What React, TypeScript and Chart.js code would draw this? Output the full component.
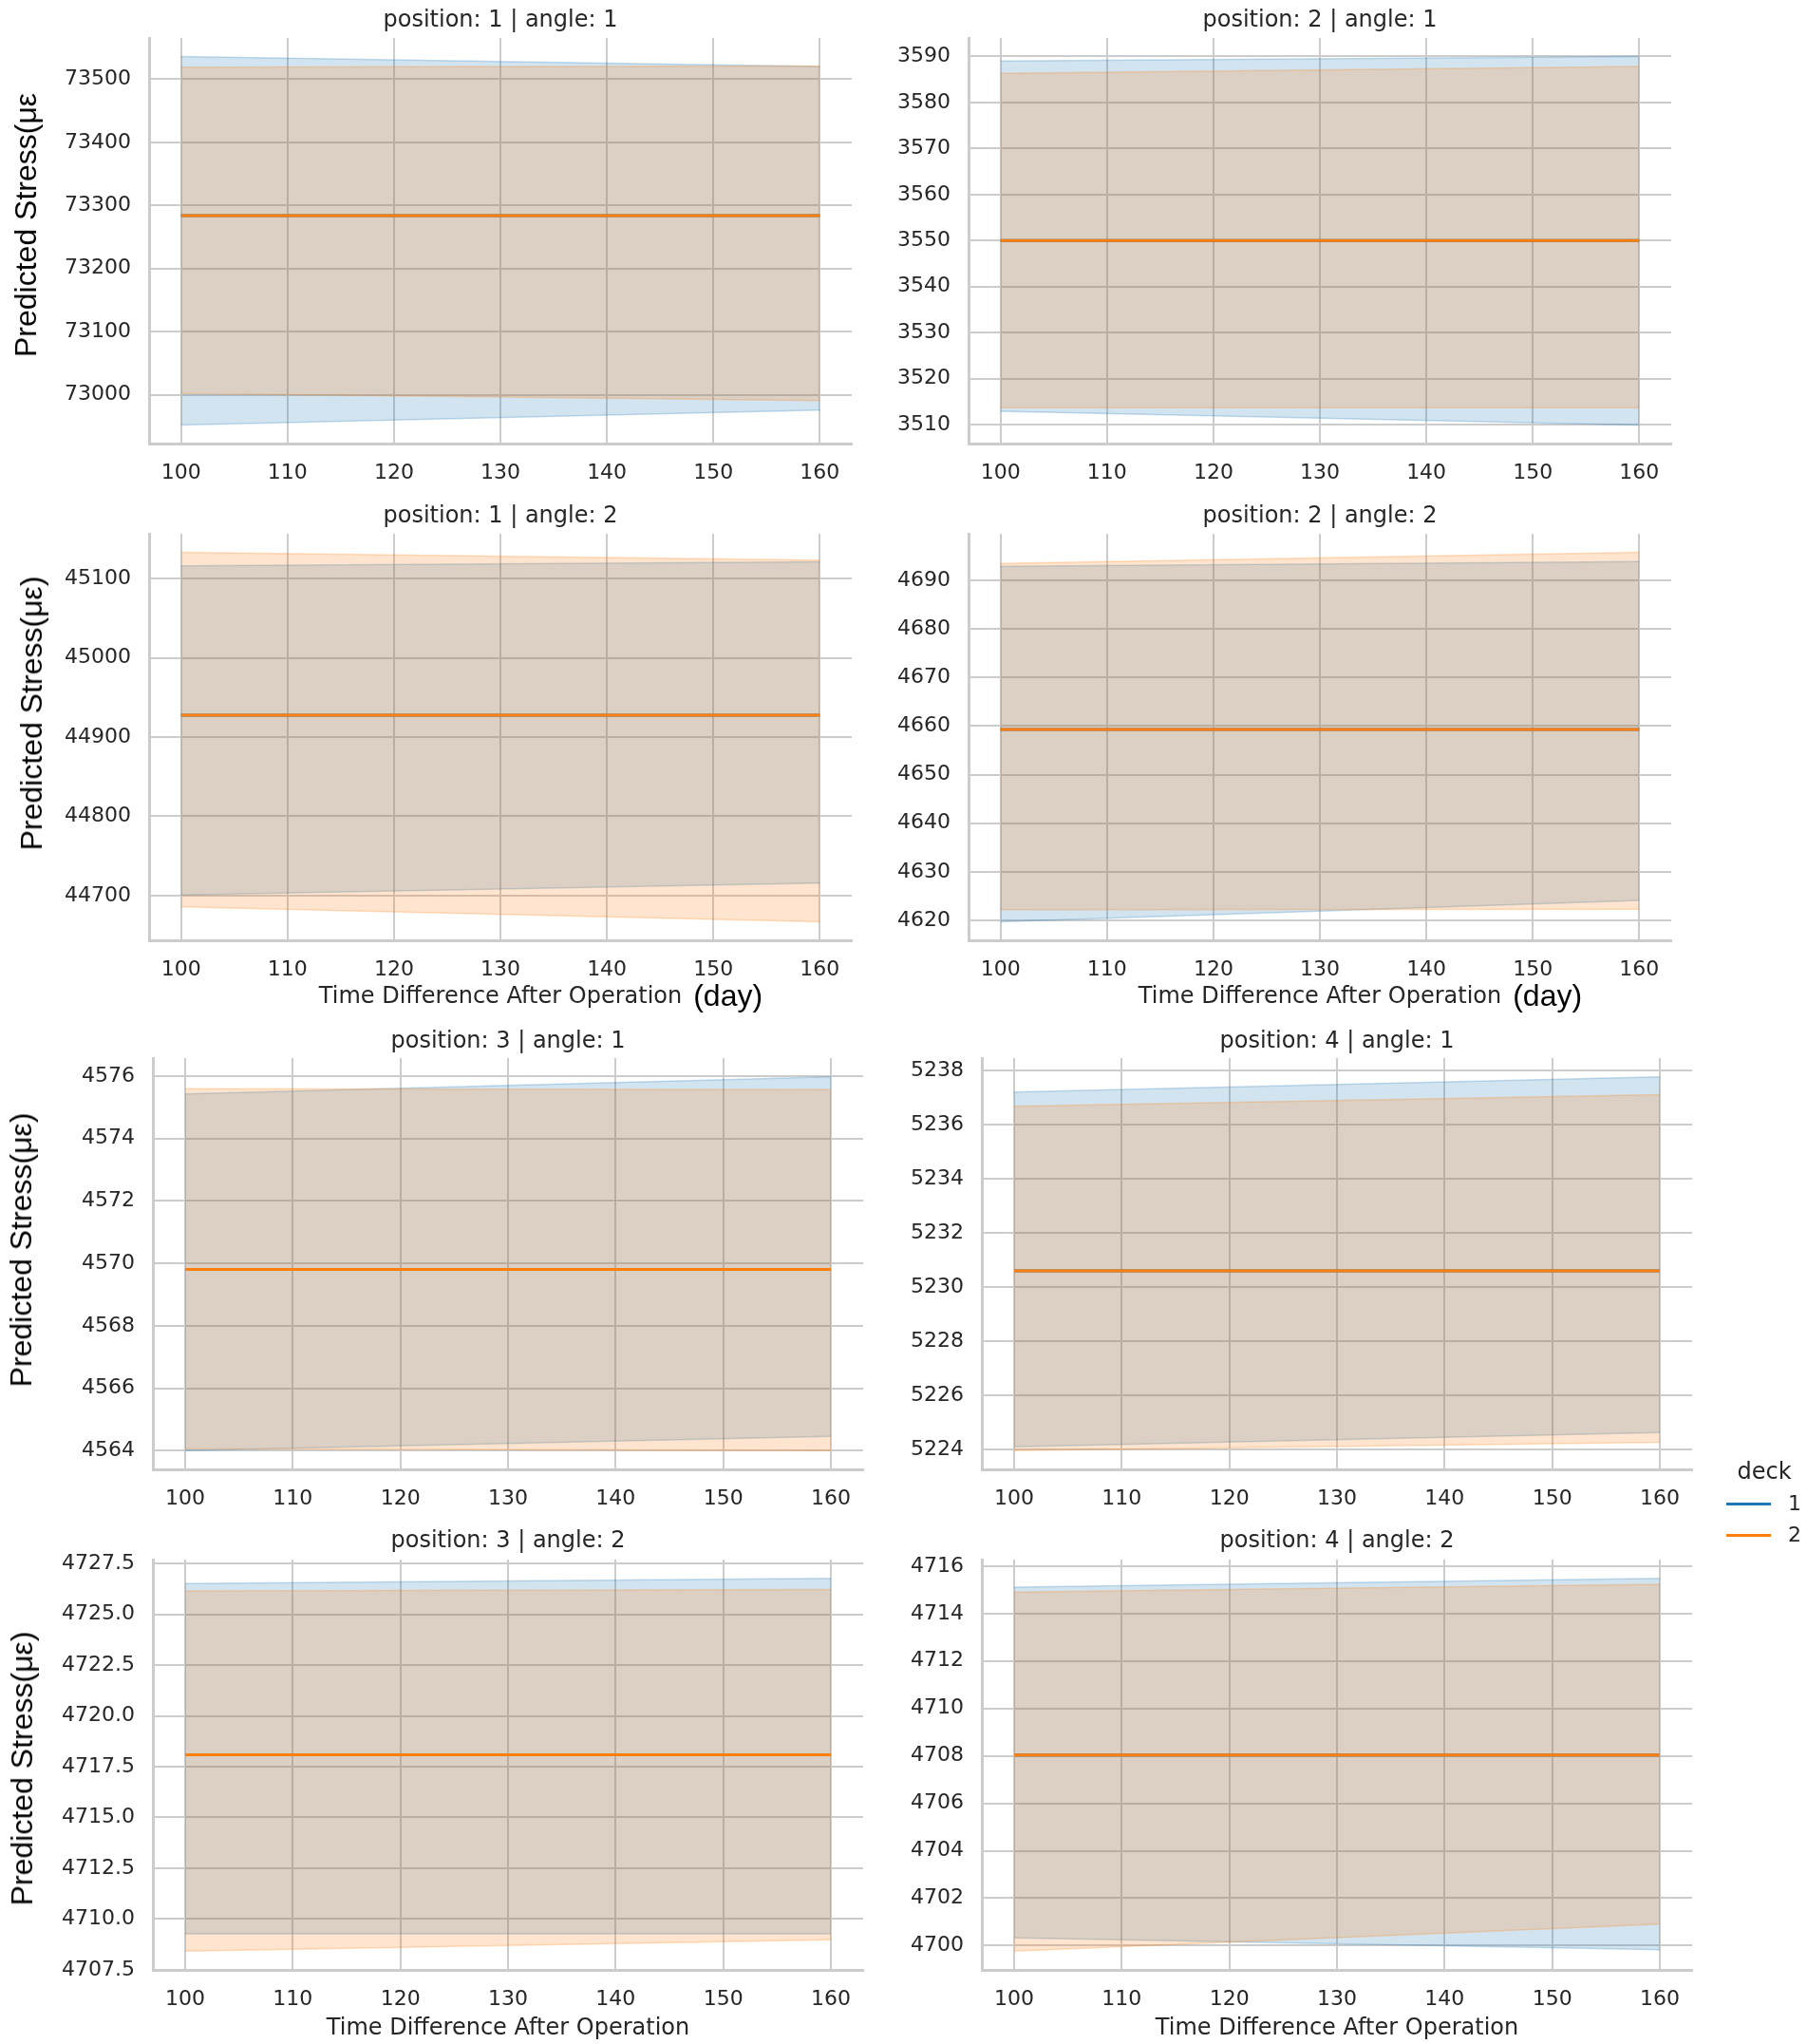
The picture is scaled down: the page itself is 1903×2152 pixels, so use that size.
import React, { useEffect, useRef } from 'react';
import { Chart, registerables } from 'chart.js';

Chart.register(...registerables);

// ---------- data ----------
const days = [100, 160];
const xTicks = [100, 110, 120, 130, 140, 150, 160];

// position 1 | angle 1
const p1a1Deck1Lower = [72952, 72976];
const p1a1Deck1Upper = [73536, 73520];
const p1a1Deck2Lower = [73002, 72991];
const p1a1Deck2Upper = [73519, 73521];
const p1a1Deck1Mean = [73284, 73284];
const p1a1Deck2Mean = [73284, 73284];
const p1a1Ticks = [73000, 73100, 73200, 73300, 73400, 73500];

// position 2 | angle 1
const p2a1Deck1Lower = [3512.9, 3509.9];
const p2a1Deck1Upper = [3589.0, 3590.0];
const p2a1Deck2Lower = [3513.7, 3513.7];
const p2a1Deck2Upper = [3586.3, 3587.8];
const p2a1Deck1Mean = [3550.0, 3550.0];
const p2a1Deck2Mean = [3550.0, 3550.0];
const p2a1Ticks = [3510, 3520, 3530, 3540, 3550, 3560, 3570, 3580, 3590];

// position 1 | angle 2
const p1a2Deck1Lower = [44701, 44716];
const p1a2Deck1Upper = [45116, 45121];
const p1a2Deck2Lower = [44686, 44667];
const p1a2Deck2Upper = [45133, 45123];
const p1a2Deck1Mean = [44927.5, 44927.5];
const p1a2Deck2Mean = [44927.5, 44927.5];
const p1a2Ticks = [44700, 44800, 44900, 45000, 45100];

// position 2 | angle 2
const p2a2Deck1Lower = [4619.7, 4624.1];
const p2a2Deck1Upper = [4692.9, 4693.9];
const p2a2Deck2Lower = [4622.2, 4622.3];
const p2a2Deck2Upper = [4693.5, 4695.8];
const p2a2Deck1Mean = [4659.3, 4659.3];
const p2a2Deck2Mean = [4659.3, 4659.3];
const p2a2Ticks = [4620, 4630, 4640, 4650, 4660, 4670, 4680, 4690];

// position 3 | angle 1
const p3a1Deck1Lower = [4564.0, 4564.46];
const p3a1Deck1Upper = [4575.43, 4575.98];
const p3a1Deck2Lower = [4564.06, 4564.0];
const p3a1Deck2Upper = [4575.6, 4575.57];
const p3a1Deck1Mean = [4569.81, 4569.81];
const p3a1Deck2Mean = [4569.81, 4569.81];
const p3a1Ticks = [4564, 4566, 4568, 4570, 4572, 4574, 4576];

// position 4 | angle 1
const p4a1Deck1Lower = [5224.1, 5224.63];
const p4a1Deck1Upper = [5237.2, 5237.76];
const p4a1Deck2Lower = [5223.96, 5224.27];
const p4a1Deck2Upper = [5236.67, 5237.1];
const p4a1Deck1Mean = [5230.6, 5230.6];
const p4a1Deck2Mean = [5230.6, 5230.6];
const p4a1Ticks = [5224, 5226, 5228, 5230, 5232, 5234, 5236, 5238];

// position 3 | angle 2
const p3a2Deck1Lower = [4709.27, 4709.27];
const p3a2Deck1Upper = [4726.52, 4726.78];
const p3a2Deck2Lower = [4708.41, 4708.98];
const p3a2Deck2Upper = [4726.16, 4726.23];
const p3a2Deck1Mean = [4718.09, 4718.09];
const p3a2Deck2Mean = [4718.09, 4718.09];
const p3a2Ticks = [4707.5, 4710.0, 4712.5, 4715.0, 4717.5, 4720.0, 4722.5, 4725.0, 4727.5];

// position 4 | angle 2
const p4a2Deck1Lower = [4700.33, 4699.82];
const p4a2Deck1Upper = [4715.11, 4715.49];
const p4a2Deck2Lower = [4699.76, 4700.91];
const p4a2Deck2Upper = [4714.9, 4715.24];
const p4a2Deck1Mean = [4708.04, 4708.04];
const p4a2Deck2Mean = [4708.04, 4708.04];
const p4a2Ticks = [4700, 4702, 4704, 4706, 4708, 4710, 4712, 4714, 4716];

const deckLabels = ['1', '2'];

// ---------- styles ----------
const BLUE = '#1f77b4';
const ORANGE = '#ff7f0e';
const BLUE_FILL = 'rgba(31,119,180,0.2)';
const ORANGE_FILL = 'rgba(255,127,14,0.2)';
const BLUE_EDGE = 'rgba(31,119,180,0.25)';
const ORANGE_EDGE = 'rgba(255,127,14,0.25)';
const GRID = '#cccccc';
const TEXT = '#262626';
const DV = "'DejaVu Sans', sans-serif";
const ARIAL = "'Liberation Sans', Arial, sans-serif";

const Y_AXIS_W = 130;
const X_AXIS_H = 60;
const PAD = 50;

type PanelCfg = {
  title: string;
  rect: [number, number, number, number];
  d1Lower: number[]; d1Upper: number[]; d2Lower: number[]; d2Upper: number[];
  d1Mean: number[]; d2Mean: number[];
  ticks: number[];
  decimals: number;
};

const panels: PanelCfg[] = [
  { title: 'position: 1 | angle: 1', rect: [157, 40, 897, 467], d1Lower: p1a1Deck1Lower, d1Upper: p1a1Deck1Upper, d2Lower: p1a1Deck2Lower, d2Upper: p1a1Deck2Upper, d1Mean: p1a1Deck1Mean, d2Mean: p1a1Deck2Mean, ticks: p1a1Ticks, decimals: 0 },
  { title: 'position: 2 | angle: 1', rect: [1020, 40, 1760, 467], d1Lower: p2a1Deck1Lower, d1Upper: p2a1Deck1Upper, d2Lower: p2a1Deck2Lower, d2Upper: p2a1Deck2Upper, d1Mean: p2a1Deck1Mean, d2Mean: p2a1Deck2Mean, ticks: p2a1Ticks, decimals: 0 },
  { title: 'position: 1 | angle: 2', rect: [157, 562, 897, 990], d1Lower: p1a2Deck1Lower, d1Upper: p1a2Deck1Upper, d2Lower: p1a2Deck2Lower, d2Upper: p1a2Deck2Upper, d1Mean: p1a2Deck1Mean, d2Mean: p1a2Deck2Mean, ticks: p1a2Ticks, decimals: 0 },
  { title: 'position: 2 | angle: 2', rect: [1020, 562, 1760, 990], d1Lower: p2a2Deck1Lower, d1Upper: p2a2Deck1Upper, d2Lower: p2a2Deck2Lower, d2Upper: p2a2Deck2Upper, d1Mean: p2a2Deck1Mean, d2Mean: p2a2Deck2Mean, ticks: p2a2Ticks, decimals: 0 },
  { title: 'position: 3 | angle: 1', rect: [161, 1114, 909, 1547], d1Lower: p3a1Deck1Lower, d1Upper: p3a1Deck1Upper, d2Lower: p3a1Deck2Lower, d2Upper: p3a1Deck2Upper, d1Mean: p3a1Deck1Mean, d2Mean: p3a1Deck2Mean, ticks: p3a1Ticks, decimals: 0 },
  { title: 'position: 4 | angle: 1', rect: [1034, 1114, 1782, 1547], d1Lower: p4a1Deck1Lower, d1Upper: p4a1Deck1Upper, d2Lower: p4a1Deck2Lower, d2Upper: p4a1Deck2Upper, d1Mean: p4a1Deck1Mean, d2Mean: p4a1Deck2Mean, ticks: p4a1Ticks, decimals: 0 },
  { title: 'position: 3 | angle: 2', rect: [161, 1642, 909, 2074], d1Lower: p3a2Deck1Lower, d1Upper: p3a2Deck1Upper, d2Lower: p3a2Deck2Lower, d2Upper: p3a2Deck2Upper, d1Mean: p3a2Deck1Mean, d2Mean: p3a2Deck2Mean, ticks: p3a2Ticks, decimals: 1 },
  { title: 'position: 4 | angle: 2', rect: [1034, 1642, 1782, 2074], d1Lower: p4a2Deck1Lower, d1Upper: p4a2Deck1Upper, d2Lower: p4a2Deck2Lower, d2Upper: p4a2Deck2Upper, d1Mean: p4a2Deck1Mean, d2Mean: p4a2Deck2Mean, ticks: p4a2Ticks, decimals: 0 },
];

const titleY = [20, 20, 542, 542, 1095, 1095, 1621, 1621];

const yLabels = [
  { text: 'Predicted Stress(με', x: 27, y: 237 },
  { text: 'Predicted Stress(με)', x: 33, y: 751 },
  { text: 'Predicted Stress(με)', x: 22, y: 1316 },
  { text: 'Predicted Stress(με)', x: 23, y: 1862 },
];

const xLabels = [
  { text: 'Time Difference After Operation', unit: '(day)', cx: 527, y: 1048 },
  { text: 'Time Difference After Operation', unit: '(day)', cx: 1390, y: 1048 },
  { text: 'Time Difference After Operation', unit: '', cx: 535, y: 2134 },
  { text: 'Time Difference After Operation', unit: '', cx: 1408, y: 2134 },
];

function Panel({ cfg }: { cfg: PanelCfg }) {
  const ref = useRef<HTMLCanvasElement | null>(null);
  const [L, T, R, B] = cfg.rect;
  const w = R - L + Y_AXIS_W + PAD;
  const h = B - T + PAD + X_AXIS_H;

  useEffect(() => {
    const all = [...cfg.d1Lower, ...cfg.d1Upper, ...cfg.d2Lower, ...cfg.d2Upper];
    const lo = Math.min(...all);
    const hi = Math.max(...all);
    const m = (hi - lo) * 0.05;
    const pts = (arr: number[]) => days.map((x, i) => ({ x, y: arr[i] }));
    const band = (arr: number[], edge: string, fillTo: any, bg: string) => ({
      data: pts(arr), borderColor: edge, borderWidth: 1.5, pointRadius: 0,
      fill: fillTo, backgroundColor: bg, tension: 0,
    });
    const chart = new Chart(ref.current as HTMLCanvasElement, {
      type: 'line',
      data: {
        datasets: [
          { label: deckLabels[1], data: pts(cfg.d2Mean), borderColor: ORANGE, borderWidth: 3, pointRadius: 0, fill: false },
          { label: deckLabels[0], data: pts(cfg.d1Mean), borderColor: BLUE, borderWidth: 3, pointRadius: 0, fill: false },
          band(cfg.d2Upper, ORANGE_EDGE, '+1', ORANGE_FILL) as any,
          band(cfg.d2Lower, ORANGE_EDGE, false, ORANGE_FILL) as any,
          band(cfg.d1Upper, BLUE_EDGE, '+1', BLUE_FILL) as any,
          band(cfg.d1Lower, BLUE_EDGE, false, BLUE_FILL) as any,
        ],
      },
      options: {
        animation: false,
        responsive: false,
        maintainAspectRatio: false,
        devicePixelRatio: 1,
        layout: { padding: { top: PAD, right: PAD, left: 0, bottom: 0 } },
        plugins: { legend: { display: false }, tooltip: { enabled: false }, title: { display: false } },
        scales: {
          x: {
            type: 'linear', min: 97, max: 163,
            afterBuildTicks: (a: any) => { a.ticks = xTicks.map((v) => ({ value: v })); },
            afterFit: (s: any) => { s.height = X_AXIS_H; },
            grid: { color: GRID, lineWidth: 2, drawTicks: false },
            border: { display: true, color: GRID, width: 3 },
            ticks: { padding: 18, color: TEXT, font: { family: DV, size: 22 }, maxRotation: 0, autoSkip: false, callback: (v: any) => String(v) },
          },
          y: {
            type: 'linear', min: lo - m, max: hi + m,
            afterBuildTicks: (a: any) => { a.ticks = cfg.ticks.map((v) => ({ value: v })); },
            afterFit: (s: any) => { s.width = Y_AXIS_W; },
            grid: { color: GRID, lineWidth: 2, drawTicks: false },
            border: { display: true, color: GRID, width: 3 },
            ticks: { padding: 19, color: TEXT, font: { family: DV, size: 22 }, autoSkip: false, callback: (v: any) => Number(v).toFixed(cfg.decimals) },
          },
        },
      } as any,
    });
    return () => chart.destroy();
  }, []);

  return (
    <canvas
      ref={ref}
      width={w}
      height={h}
      style={{ position: 'absolute', left: L - Y_AXIS_W, top: T - PAD, width: w, height: h }}
    />
  );
}

export default function App() {
  return (
    <div style={{ position: 'absolute', left: 0, top: 0, width: 1903, height: 2152, background: '#fff', overflow: 'hidden' }}>
      {panels.map((p, i) => (
        <Panel key={i} cfg={p} />
      ))}
      {panels.map((p, i) => (
        <div key={'t' + i} style={{ position: 'absolute', left: (p.rect[0] + p.rect[2]) / 2, top: titleY[i], transform: 'translate(-50%,-50%)', whiteSpace: 'nowrap', fontFamily: DV, fontSize: 24, lineHeight: '28px', color: TEXT }}>
          {p.title}
        </div>
      ))}
      {yLabels.map((l, i) => (
        <div key={'y' + i} style={{ position: 'absolute', left: l.x, top: l.y, transform: 'translate(-50%,-50%) rotate(-90deg)', whiteSpace: 'nowrap', fontFamily: ARIAL, fontSize: 32, lineHeight: '36px', color: '#000' }}>
          {l.text}
        </div>
      ))}
      {xLabels.map((l, i) => (
        <div key={'x' + i} style={{ position: 'absolute', left: l.cx, top: l.y, transform: 'translate(-50%,-50%)', whiteSpace: 'nowrap', fontFamily: DV, fontSize: 24, lineHeight: '28px', color: TEXT }}>
          {l.text}
          {l.unit ? (
            <span style={{ position: 'absolute', left: '100%', top: '50%', marginLeft: 12, transform: 'translateY(-50%)', fontFamily: ARIAL, fontSize: 32, lineHeight: '36px', color: '#000' }}>{l.unit}</span>
          ) : null}
        </div>
      ))}
      <div style={{ position: 'absolute', left: 1858, top: 1549, transform: 'translate(-50%,-50%)', fontFamily: DV, fontSize: 24, lineHeight: '28px', color: TEXT }}>deck</div>
      {deckLabels.map((d, i) => (
        <React.Fragment key={'lg' + i}>
          <div style={{ position: 'absolute', left: 1818, top: (i === 0 ? 1583 : 1616) - 1.5, width: 47, height: 3, background: i === 0 ? BLUE : ORANGE }} />
          <div style={{ position: 'absolute', left: 1883, top: i === 0 ? 1583 : 1616, transform: 'translateY(-50%)', fontFamily: DV, fontSize: 22, lineHeight: '26px', color: TEXT }}>{d}</div>
        </React.Fragment>
      ))}
    </div>
  );
}
